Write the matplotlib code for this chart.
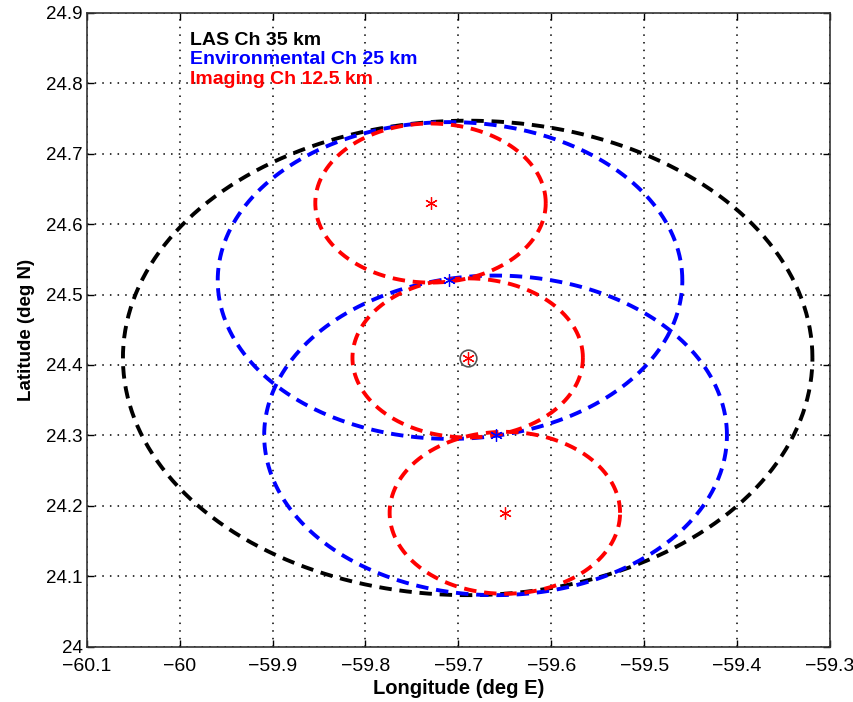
import numpy as np
import matplotlib
matplotlib.use('Agg')
import matplotlib.pyplot as plt

plt.rcParams['font.family'] = ['Liberation Sans', 'DejaVu Sans']

# footprint ellipses: centre lon, centre lat, half-width lon, half-height lat
las_lon = [-59.69]
las_lat = [24.41]
las_a = [0.371]
las_b = [0.337]

env_lon = [-59.709, -59.66]
env_lat = [24.52, 24.30]
env_a = [0.250, 0.249]
env_b = [0.225, 0.227]

img_lon = [-59.73, -59.69, -59.65]
img_lat = [24.63, 24.41, 24.19]
img_a = [0.124, 0.124, 0.124]
img_b = [0.113, 0.113, 0.115]

# markers
env_pts_lon = [-59.71, -59.66]
env_pts_lat = [24.52, 24.30]
site_lon = -59.69
site_lat = 24.41

labels = ["LAS Ch 35 km", "Environmental Ch 25 km", "Imaging Ch 12.5 km"]
colors = ["black", "blue", "red"]

xticks = [-60.1, -60, -59.9, -59.8, -59.7, -59.6, -59.5, -59.4, -59.3]
xtick_labels = ["\u221260.1", "\u221260", "\u221259.9", "\u221259.8", "\u221259.7",
                "\u221259.6", "\u221259.5", "\u221259.4", "\u221259.3"]
yticks = [24, 24.1, 24.2, 24.3, 24.4, 24.5, 24.6, 24.7, 24.8, 24.9]
ytick_labels = ["24", "24.1", "24.2", "24.3", "24.4", "24.5", "24.6", "24.7", "24.8", "24.9"]

fig = plt.figure(figsize=(8.54, 7.02), dpi=100)
ax = fig.add_axes([0.1015, 0.079, 0.8705, 0.9025])

t = np.linspace(0, 2 * np.pi, 400)


def draw(lons, lats, aa, bb, color):
    for x0, y0, a, b in zip(lons, lats, aa, bb):
        ax.plot(x0 + a * np.cos(t), y0 + b * np.sin(t), color=color,
                lw=2.8, dashes=(3.2, 2.0))


draw(las_lon, las_lat, las_a, las_b, "black")
draw(env_lon, env_lat, env_a, env_b, "blue")
draw(img_lon, img_lat, img_a, img_b, "red")

ax.plot(env_pts_lon, env_pts_lat, ls='none', marker=(6, 2, 0), ms=9,
        mec='blue', mew=0.9)
ax.plot(img_lon, img_lat, ls='none', marker=(6, 2, 0), ms=9,
        mec='red', mew=0.9)
ax.plot([site_lon], [site_lat], ls='none', marker='o', ms=12,
        mfc='none', mec='#555555', mew=1.2)

ax.set_xlim(-60.1, -59.3)
ax.set_ylim(24, 24.9)
ax.set_xticks(xticks)
ax.set_xticklabels(xtick_labels, fontsize=14)
ax.set_yticks(yticks)
ax.set_yticklabels(ytick_labels, fontsize=13.5)
ax.tick_params(direction='in', top=True, right=True, length=5, width=1, pad=3)
ax.tick_params(axis='x', pad=8)
ax.grid(True, color='black', ls=(0, (1, 4)), lw=1.1)
for s in ax.spines.values():
    s.set_linewidth(1.2)
    s.set_color('#333333')

ax.set_xlabel("Longitude (deg E)", fontsize=14.5, fontweight='bold', labelpad=3)
ax.set_ylabel("Latitude (deg N)", fontsize=13.5, fontweight='bold', labelpad=8)

for i, (lab, c) in enumerate(zip(labels, colors)):
    ax.text(0.1386, 0.957 - i * 0.0308, lab, color=c, fontsize=14,
            fontweight='bold', transform=ax.transAxes, va='center')

fig.savefig("out.png", dpi=100)
